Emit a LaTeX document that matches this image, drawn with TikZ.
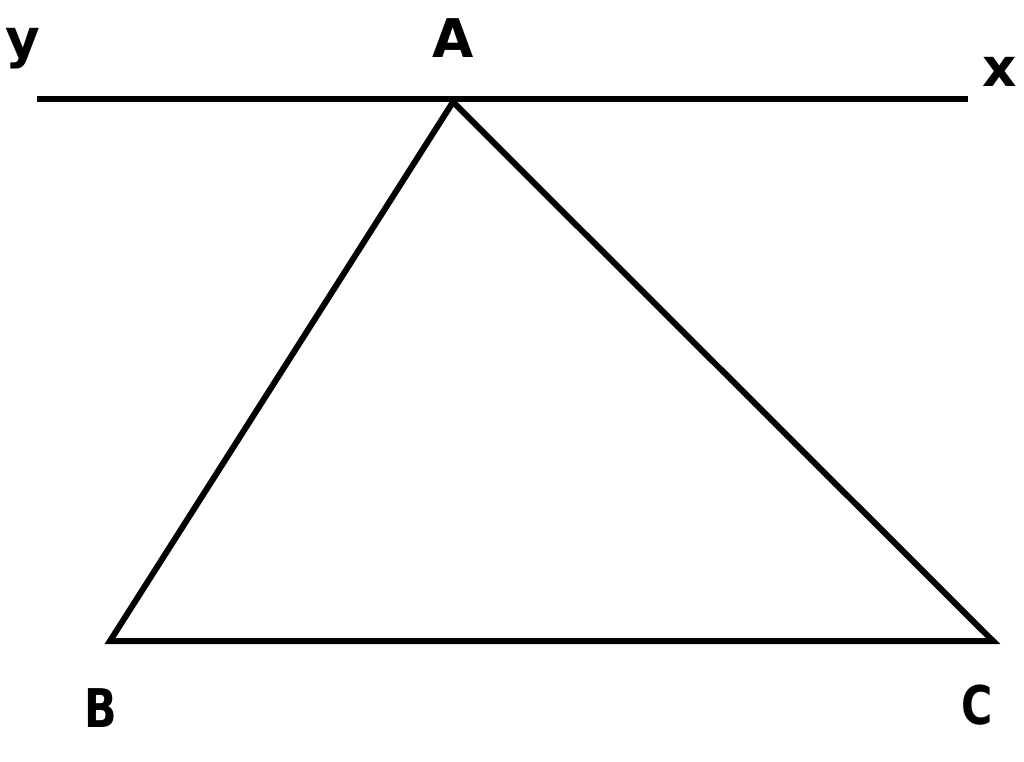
\documentclass[tikz,border=0pt]{standalone}
\usepackage{fontspec}
\setmainfont{DejaVu Sans}
\tikzset{every picture/.style={line width=4.5pt}}
\tikzset{lbl/.style={inner sep=0.75pt,font=\fontsize{40}{40}\selectfont\bfseries}}
\tikzset{narrow/.style={lbl,xscale=0.8}}

\begin{document}
\begin{tikzpicture}[x=0.75pt,y=0.75pt,yscale=-1,xscale=1]
\useasboundingbox (0,0) rectangle (1024,762);

% Points
\coordinate (A) at (453,102);
\coordinate (B) at (110,641);
\coordinate (C) at (993,641);
\coordinate (ye) at (37,99);
\coordinate (xe) at (968,99);

%Straight Lines 
\draw [line cap=butt]   (ye) -- (xe) ;
%Shape: Triangle 
\draw [line join=miter]  (A) -- (B) -- (C) -- cycle ;

% Text Node
\node (lA) [lbl] at (453,38) {A};
% Text Node
\node (ly) [lbl] at (23,49) {y};
% Text Node
\node (lx) [lbl] at (1000,72) {x};
% Text Node
\node (lB) [narrow] at (101,708) {B};
% Text Node
\node (lC) [narrow] at (977,705) {C};
\end{tikzpicture}
\end{document}
